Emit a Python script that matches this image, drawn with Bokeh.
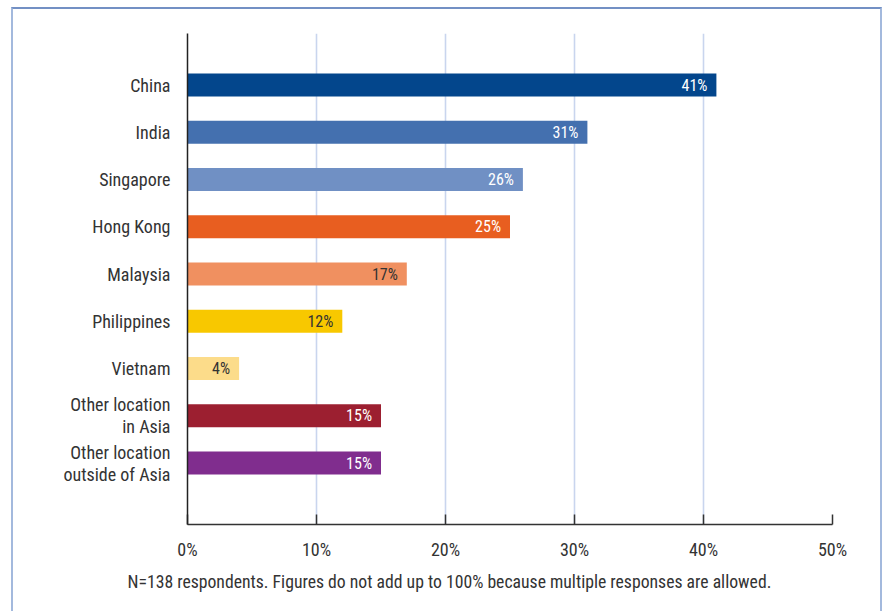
from bokeh.plotting import figure
from bokeh.models import Range1d, FixedTicker, ColumnDataSource, Title
from bokeh.core.properties import value
from bokeh.embed import file_html
from bokeh.resources import INLINE

categories = ["China", "India", "Singapore", "Hong Kong", "Malaysia", "Philippines",
              "Vietnam", "Other location\nin Asia", "Other location\noutside of Asia"]
shares = [41, 31, 26, 25, 17, 12, 4, 15, 15]
labels = ["41%", "31%", "26%", "25%", "17%", "12%", "4%", "15%", "15%"]
colors = ["#03468C", "#4470AF", "#7090C4", "#E85E20", "#F09060", "#F8C800",
          "#FCDC8A", "#9C1F30", "#802D8E"]
label_colors = ["#FFFFFF", "#FFFFFF", "#FFFFFF", "#FFFFFF", "#333333", "#333333",
                "#333333", "#FFFFFF", "#FFFFFF"]
x_ticks = [0, 10, 20, 30, 40, 50]
x_tick_labels = ["0%", "10%", "20%", "30%", "40%", "50%"]
footnote = "N=138 respondents. Figures do not add up to 100% because multiple responses are allowed."

FONT = "'Roboto Condensed', 'DejaVu Sans Condensed', 'Liberation Sans Narrow', Roboto, sans-serif"

pos = list(range(len(categories)))
src = ColumnDataSource(dict(y=pos, x=shares, color=colors, lab=labels, lc=label_colors))

p = figure(width=871, height=604, output_backend="svg", toolbar_location=None,
           x_range=Range1d(0, 50), y_range=Range1d(9.3, -1.09),
           min_border_left=174, min_border_right=52, min_border_top=24, min_border_bottom=89,
           margin=(7, 0, 0, 11),
           styles={"border-top": "2px solid #7390C4", "border-left": "2px solid #A3B9DD",
                   "border-right": "2px solid #A3B9DD"})
p.outline_line_color = None
p.background_fill_color = "white"
p.border_fill_color = "white"

p.hbar(y="y", right="x", left=0, height=0.487, fill_color="color", line_color=None, source=src)
p.text(x="x", y="y", text="lab", text_color="lc", x_offset=-9, text_align="right",
       text_baseline="middle", text_font=value(FONT), text_font_size="16px", source=src)

p.xgrid.ticker = FixedTicker(ticks=x_ticks)
p.xgrid.grid_line_color = "#C9D5EE"
p.xgrid.grid_line_width = 1.6
p.ygrid.grid_line_color = None

xa = p.xaxis[0]
xa.ticker = FixedTicker(ticks=x_ticks)
xa.major_label_overrides = {t: l for t, l in zip(x_ticks, x_tick_labels)}
xa.major_tick_in = 10
xa.major_tick_out = 0
xa.minor_tick_line_color = None
xa.axis_line_color = "#333333"
xa.axis_line_width = 1.5
xa.major_tick_line_color = "#333333"
xa.major_tick_line_width = 1.5
xa.major_label_text_font = FONT
xa.major_label_text_font_size = "18px"
xa.major_label_text_color = "#333333"
xa.major_label_standoff = 14

ya = p.yaxis[0]
ya.ticker = FixedTicker(ticks=pos)
ya.major_label_overrides = {i: c for i, c in zip(pos, categories)}
ya.major_tick_line_color = None
ya.minor_tick_line_color = None
ya.axis_line_color = "#222222"
ya.axis_line_width = 1.5
ya.major_label_text_font = FONT
ya.major_label_text_font_size = "18px"
ya.major_label_text_color = "#333333"
ya.major_label_text_line_height = 1.05
ya.major_label_standoff = 11

p.add_layout(Title(text=footnote, align="left", offset=-60, text_font=FONT,
                   text_font_size="17.7px", text_font_style="normal", text_color="#333333",
                   standoff=14), "below")

open("out.html", "w").write(file_html(p, INLINE))
